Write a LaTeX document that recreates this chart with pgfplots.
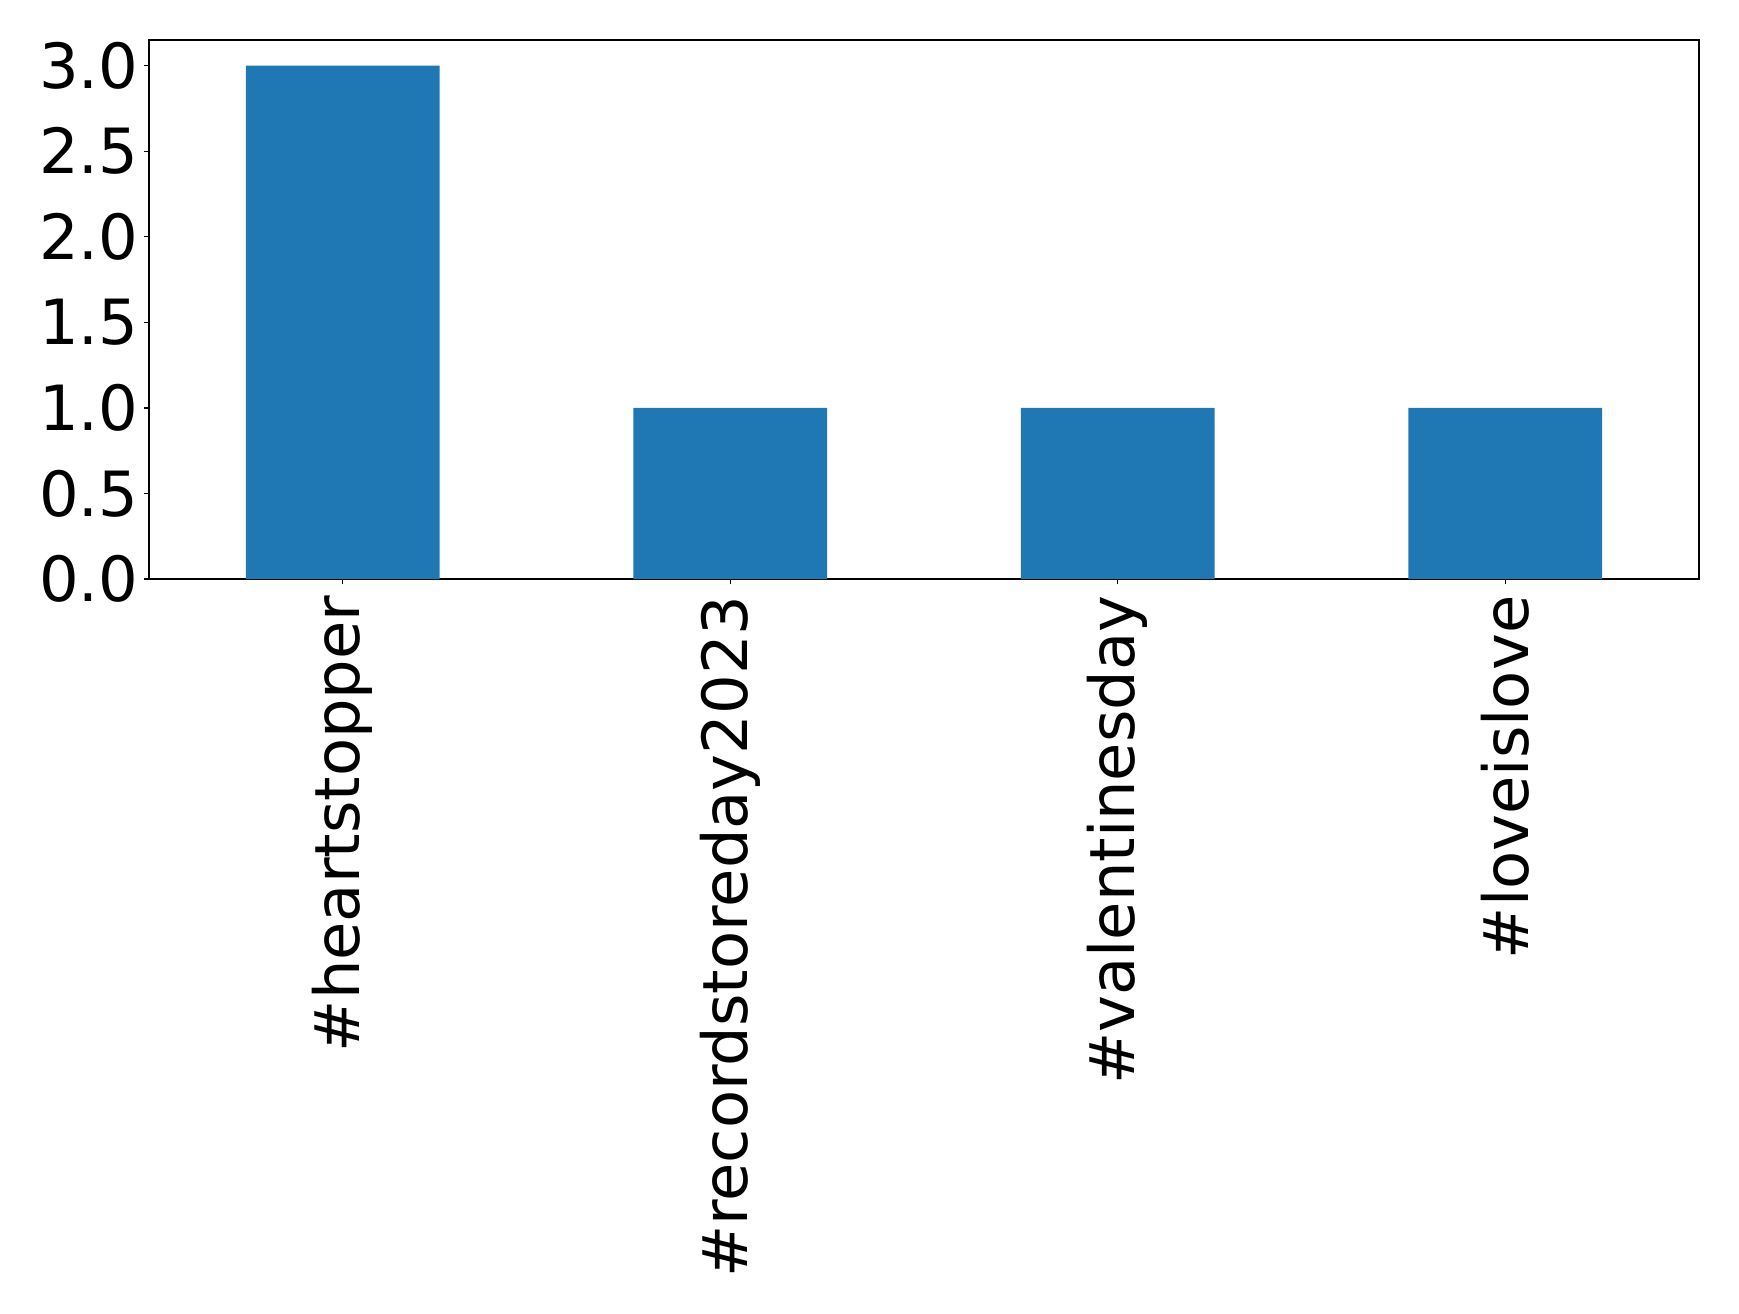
\documentclass[border=0pt]{standalone}
\usepackage{fontspec}
\setmainfont{DejaVu Sans}
\usepackage{pgfplots}
\pgfplotsset{compat=1.18}
\definecolor{barblue}{HTML}{1F77B4}
\begin{document}
\begin{tikzpicture}
% 1 px of the reference = 0.3pt
\begin{axis}[
    at={(0,0)}, anchor=south west,
    scale only axis,
    width=465pt, height=161.7pt,
    xmin=-0.5, xmax=3.5,
    ymin=0, ymax=3.15,
    xtick={0,1,2,3},
    xticklabels={\#heartstopper,\#recordstoreday2023,\#valentinesday,\#loveislove},
    ytick={0,0.5,1,1.5,2,2.5,3},
    yticklabel style={/pgf/number format/fixed,/pgf/number format/precision=1,/pgf/number format/fixed zerofill},
    /pgf/number format/assume math mode=true,
    tick align=outside,
    xtick pos=bottom, ytick pos=left,
    major tick length=1.5pt,
    tick style={black, line width=0.4pt},
    axis line style={line width=0.4pt},
    font=\fontsize{18.7pt}{22pt}\selectfont,
    xticklabel style={rotate=90, anchor=east, inner sep=0pt},
    yticklabel style={inner sep=0pt},
    xticklabel shift=3.3pt,
    yticklabel shift=1.5pt,
    ybar, bar width=0.5,
    enlargelimits=false,
]
\addplot[fill=barblue, draw=none] coordinates {(0,3) (1,1) (2,1) (3,1)};
\end{axis}
\path (-44.7pt,-220.2pt) rectangle (477pt,173.7pt);
\end{tikzpicture}
\end{document}
